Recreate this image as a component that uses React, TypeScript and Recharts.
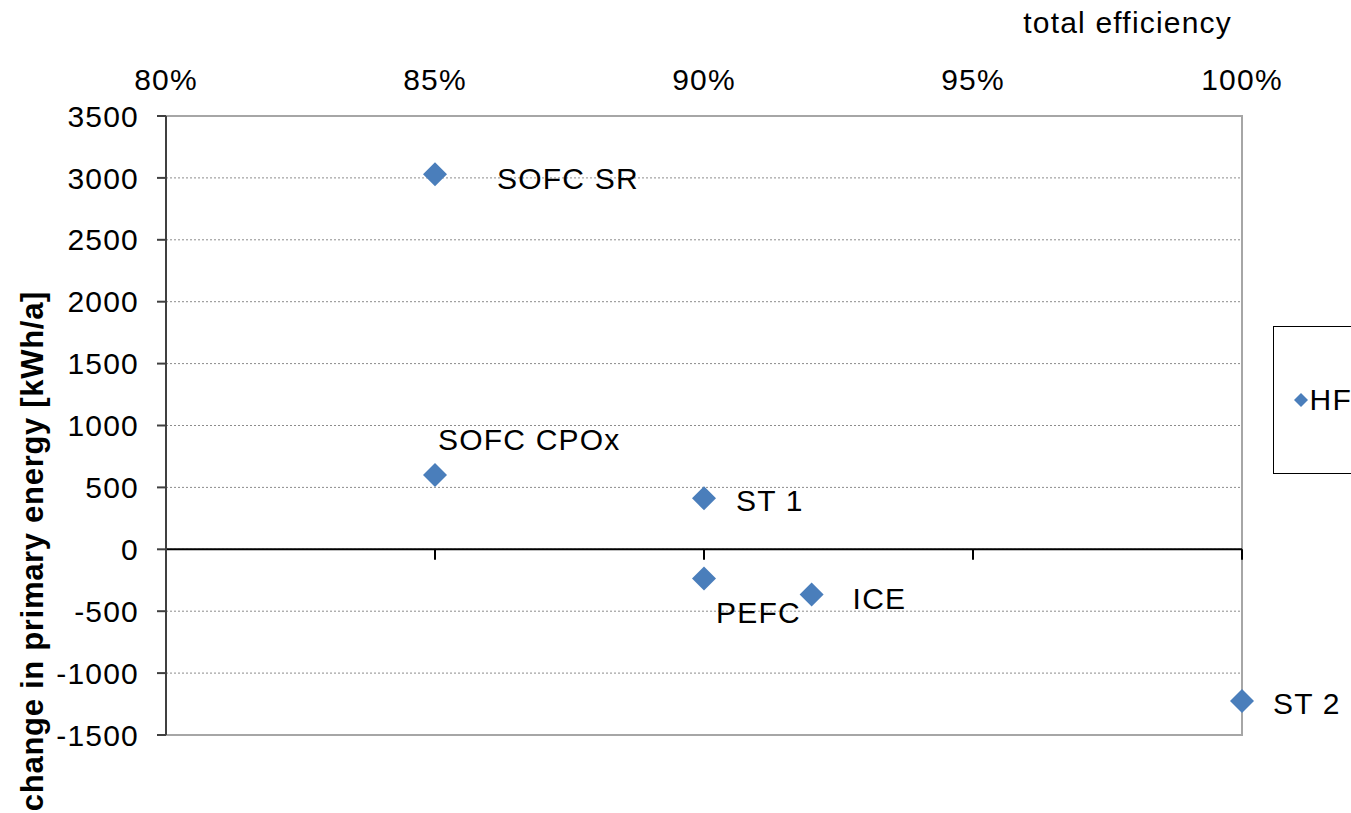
import {
  ScatterChart,
  Scatter,
  XAxis,
  YAxis,
  CartesianGrid,
  ReferenceLine,
  ReferenceArea,
  LabelList,
  Legend,
} from 'recharts';

// total efficiency [%] and change in primary energy [kWh/a]
const systems = ['SOFC SR', 'SOFC CPOx', 'ST 1', 'PEFC', 'ICE', 'ST 2'];
const efficiency = [85, 85, 90, 90, 92, 100];
const primaryEnergy = [3030, 600, 412, -235, -365, -1225];

const xTicks = [80, 85, 90, 95, 100];
const yTicks = [-1500, -1000, -500, 0, 500, 1000, 1500, 2000, 2500, 3000, 3500];

// where each point label sits relative to its marker (px)
const labelPlacement: Record<string, [number, number]> = {
  'SOFC SR': [62, 4],
  'SOFC CPOx': [3, -36],
  'ST 1': [32, 2],
  PEFC: [12, 34],
  ICE: [41, 4],
  'ST 2': [31, 3],
};

const data = systems.map((name, i) => ({ name, x: efficiency[i], y: primaryEnergy[i] }));

const FONT = 'Liberation Sans, Arial, sans-serif';
const BLUE = '#4a7ebb';
const SPACING = 1.2;

const Diamond = (props: any) => {
  const { cx, cy } = props;
  const r = 12;
  return (
    <polygon
      points={`${cx},${cy - r} ${cx + r},${cy} ${cx},${cy + r} ${cx - r},${cy}`}
      fill={BLUE}
    />
  );
};

const PointLabel = (props: any) => {
  const { x, y, width, height, value } = props;
  const [dx, dy] = labelPlacement[value] || [0, 0];
  const cx = x + width / 2;
  const cy = y + height / 2;
  return (
    <text
      x={cx + dx}
      y={cy + dy}
      dominantBaseline="central"
      fontSize={30}
      letterSpacing={SPACING}
      fill="#000"
      fontFamily={FONT}
    >
      {value}
    </text>
  );
};

const LegendBox = () => (
  <div
    style={{
      width: 78,
      height: 146,
      border: '1px solid #000',
      borderRight: 'none',
      background: '#fff',
      display: 'flex',
      alignItems: 'center',
      fontFamily: FONT,
      fontSize: 30,
      letterSpacing: SPACING,
    }}
  >
    <svg width={22} height={16} style={{ marginLeft: 19 }}>
      <polygon points="8,1 15,8 8,15 1,8" fill={BLUE} />
    </svg>
    <span>HF</span>
  </div>
);

export default function App() {
  return (
    <div style={{ position: 'absolute', left: 0, top: 0, width: 1351, height: 813, overflow: 'hidden', background: '#fff' }}>
      <ScatterChart width={1351} height={813} margin={{ top: 60, right: 109, bottom: 78, left: 20 }}>
        <CartesianGrid vertical={false} stroke="#8c8c8c" strokeDasharray="2 2" />
        <ReferenceArea x1={80} x2={100} y1={-1500} y2={3500} fill="none" stroke="#a6a6a6" strokeWidth={2} />
        <XAxis
          type="number"
          dataKey="x"
          orientation="top"
          domain={[80, 100]}
          ticks={xTicks}
          tickFormatter={(v: number) => `${v}%`}
          axisLine={false}
          tickLine={false}
          tickSize={0}
          tickMargin={26}
          height={56}
          tick={{ fontSize: 30, fill: '#000', fontFamily: FONT, letterSpacing: SPACING }}
          label={{
            content: () => (
              <text
                x={1232}
                y={22}
                textAnchor="end"
                dominantBaseline="central"
                fontSize={30}
                letterSpacing={SPACING}
                fontFamily={FONT}
                fill="#000"
              >
                total efficiency
              </text>
            ),
          }}
        />
        <YAxis
          type="number"
          dataKey="y"
          domain={[-1500, 3500]}
          ticks={yTicks}
          interval={0}
          width={146}
          axisLine={{ stroke: '#404040', strokeWidth: 2 }}
          tickLine={{ stroke: '#404040', strokeWidth: 2 }}
          tickSize={9}
          tickMargin={18}
          tick={{ fontSize: 30, fill: '#000', fontFamily: FONT, letterSpacing: SPACING }}
          label={{
            content: () => (
              <text
                x={32}
                y={551}
                transform="rotate(-90 32 551)"
                textAnchor="middle"
                dominantBaseline="central"
                fontSize={31}
                fontWeight="bold"
                letterSpacing={0.7}
                fontFamily={FONT}
                fill="#000"
              >
                change in primary energy [kWh/a]
              </text>
            ),
          }}
        />
        <ReferenceLine y={0} stroke="#000" strokeWidth={2} />
        {xTicks.slice(1).map((t) => (
          <ReferenceLine
            key={t}
            segment={[
              { x: t, y: 0 },
              { x: t, y: -85 },
            ]}
            stroke="#000"
            strokeWidth={2}
          />
        ))}
        <Legend
          layout="vertical"
          align="center"
          verticalAlign="middle"
          content={<LegendBox />}
          wrapperStyle={{ position: 'absolute', left: 1273, top: 326, width: 78, height: 148 }}
        />
        <Scatter name="HF" data={data} fill={BLUE} shape={<Diamond />} isAnimationActive={false}>
          <LabelList dataKey="name" content={<PointLabel />} />
        </Scatter>
      </ScatterChart>
    </div>
  );
}
